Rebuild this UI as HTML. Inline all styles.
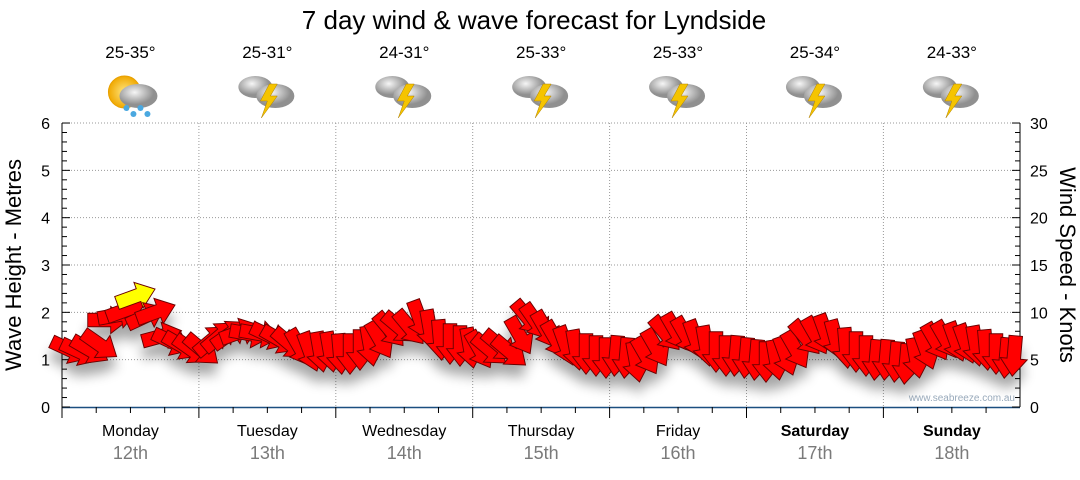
<!DOCTYPE html>
<html><head><meta charset="utf-8"><style>
body{margin:0;background:#fff;width:1080px;height:475px;overflow:hidden;font-family:"Liberation Sans","DejaVu Sans",sans-serif}
</style></head><body>
<svg id="s" width="1080" height="475" xmlns="http://www.w3.org/2000/svg" font-family="Liberation Sans, DejaVu Sans, sans-serif">
<defs>
<filter id="sh" x="-50%" y="-50%" width="200%" height="200%"><feGaussianBlur stdDeviation="6"/></filter>
<radialGradient id="cl" cx="0.4" cy="0.35"><stop offset="0" stop-color="#f6f6f6"/><stop offset="1" stop-color="#909090"/></radialGradient>
<radialGradient id="sun"><stop offset="0" stop-color="#ffe680"/><stop offset="1" stop-color="#f0a800"/></radialGradient>
</defs>
<text x="534" y="29" font-size="26" text-anchor="middle" fill="#000">7 day wind &amp; wave forecast for Lyndside</text>
<g id="grid" stroke="#999" stroke-dasharray="1,2" stroke-width="1"></g>
<line x1="62" y1="407.5" x2="1020" y2="407.5" stroke="#1b4f80" stroke-width="1.5"/>
<line x1="62" y1="123" x2="62" y2="407" stroke="#000"/>
<line x1="1020" y1="123" x2="1020" y2="407" stroke="#000"/>
<g id="ticks" stroke="#000"></g>
<g id="labels" font-size="16"></g>
<text transform="translate(21,265) rotate(-90)" font-size="22" text-anchor="middle">Wave Height - Metres</text>
<text transform="translate(1060,265) rotate(90)" font-size="22" text-anchor="middle">Wind Speed - Knots</text>
<text x="1015" y="401" font-size="10" fill="#9ab" text-anchor="end">www.seabreeze.com.au</text>
<g id="icons"></g>
<g id="shadows" filter="url(#sh)" opacity="0.35"></g>
<g id="arrows"></g>
</svg>
<script>
var NS="http://www.w3.org/2000/svg";
function el(p,t,a,txt){var e=document.createElementNS(NS,t);for(var k in a)e.setAttribute(k,a[k]);if(txt!=null)e.textContent=txt;document.getElementById(p).appendChild(e);return e;}
var y0=407,py=47.33;
for(var i=1;i<=6;i++){var y=y0-i*py;el("grid","line",{x1:62,x2:1020,y1:y,y2:y});}
for(var i=0;i<=6;i++){var y=y0-i*py;el("labels","text",{x:50,y:y+6,"text-anchor":"end","font-size":16},i);}
for(var i=0;i<=30;i+=5){var y=y0-i/5*py;el("labels","text",{x:1030,y:y+6,"font-size":16},i);}
for(var i=0;i<=30;i++){var y=y0-i/5*py;el("ticks","line",{x1:62,x2:i%5?67:70,y1:y,y2:y});el("ticks","line",{x1:1020,x2:i%5?1015:1012,y1:y,y2:y});}
var days=["Monday","Tuesday","Wednesday","Thursday","Friday","Saturday","Sunday"],dates=["12th","13th","14th","15th","16th","17th","18th"],temps=["25-35°","25-31°","24-31°","25-33°","25-33°","25-34°","24-33°"];
var dw=136.9;
for(var d=0;d<7;d++){var x0=62+d*dw,cx=x0+dw/2;
 if(d>0)el("grid","line",{x1:x0,x2:x0,y1:123,y2:407});
 el("ticks","line",{x1:x0,x2:x0,y1:407,y2:418});
 for(var q=1;q<4;q++)el("ticks","line",{x1:x0+q*dw/4,x2:x0+q*dw/4,y1:407,y2:413});
 el("labels","text",{x:cx,y:436,"text-anchor":"middle","font-weight":d>=5?"bold":"normal"},days[d]);
 el("labels","text",{x:cx,y:459,"text-anchor":"middle",fill:"#7a7a7a","font-size":18},dates[d]);
 el("labels","text",{x:cx,y:58,"text-anchor":"middle","font-size":17},temps[d]);
 if(d==0){el("icons","circle",{cx:cx-6,cy:92,r:16,fill:"url(#sun)",stroke:"#e8a000"});}
 else{el("icons","ellipse",{cx:cx-12,cy:87,rx:17,ry:11,fill:"url(#cl)"});}
 el("icons","ellipse",{cx:cx+8,cy:96,rx:19,ry:12,fill:"url(#cl)"});
 if(d==0){for(var r=0;r<4;r++)el("icons","circle",{cx:cx-4+r*7,cy:108+(r%2)*6,r:3,fill:"#4aa8e0"});}
 else el("icons","polygon",{points:(cx+2)+",84 "+(cx-7)+",101 "+(cx)+",101 "+(cx-6)+",118 "+(cx+10)+",96 "+(cx+3)+",96 "+(cx+10)+",84",fill:"#f5c400",stroke:"#b08000","stroke-width":0.5});
}
var pts=[[70,350,25],[80,352,25],[90,350,30],[100,345,35],[108,320,0],[118,315,-10],[126,310,-20],[136,302,-20],[146,316,-25],[156,312,-20],[162,336,-15],[172,342,25],[182,346,30],[192,350,35],[202,350,40],[212,340,-40],[220,336,-40],[230,334,-35],[240,332,-20],[250,334,10],[260,334,10],[270,336,25],[280,340,30],[290,344,40],[300,348,60],[310,352,70],[320,352,80],[330,352,80],[340,354,85],[350,354,90],[360,350,90],[370,346,80],[380,340,60],[390,330,50],[400,328,40],[410,328,50],[420,320,70],[430,330,80],[440,340,85],[450,344,90],[460,346,90],[470,348,80],[480,350,60],[490,350,40],[500,346,40],[510,352,40],[520,336,60],[528,318,50],[536,322,55],[546,330,60],[556,340,60],[566,346,70],[576,350,80],[586,354,90],[596,356,90],[606,358,90],[616,356,95],[626,358,95],[636,362,80],[646,356,60],[656,348,60],[666,334,50],[676,332,60],[686,336,60],[696,340,70],[706,346,80],[716,352,90],[726,356,90],[736,356,95],[746,358,95],[756,360,95],[766,362,90],[776,360,80],[786,356,70],[796,350,60],[806,338,50],[816,336,60],[826,334,70],[836,340,75],[846,348,85],[856,352,90],[866,356,90],[876,360,95],[886,360,95],[896,362,95],[906,364,95],[916,358,80],[926,350,70],[936,342,60],[946,340,60],[956,342,70],[966,344,70],[976,346,80],[986,350,85],[996,354,90],[1006,358,95],[1014,356,95]];
var arr="M-15,-5 L2,-5 L2,-10 L15,0 L2,10 L2,5 L-15,5 Z";
pts.forEach(function(p,i){
 var yel=(i==7);
 el("shadows","path",{d:arr,fill:"#000",transform:"translate("+p[0]+","+(p[1]+12)+") rotate("+p[2]+") scale(1.35)"});
 el("arrows","path",{d:arr,fill:yel?"#ffff00":"#ff0000",stroke:"#6a0000","stroke-width":0.7,transform:"translate("+p[0]+","+(yel?296:p[1])+") rotate("+p[2]+") scale(1.35)"});
});
</script>
</body></html>
